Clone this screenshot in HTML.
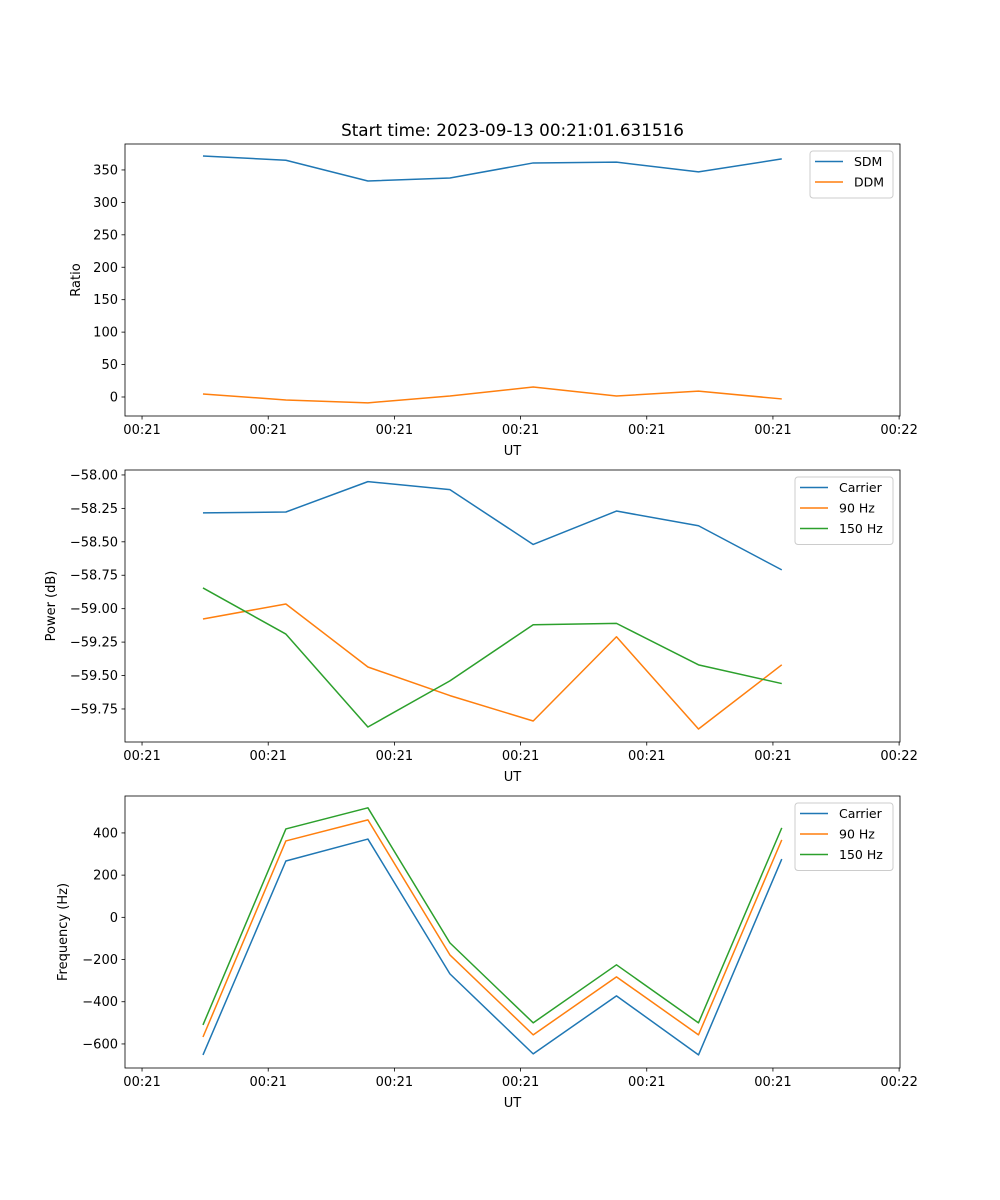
<!DOCTYPE html>
<html><head><meta charset="utf-8">
<style>
html,body{margin:0;padding:0;background:#fff;}
svg{display:block;font-family:"DejaVu Sans","Liberation Sans",sans-serif;}
</style></head>
<body>
<svg id="fig" width="1000" height="1200" xmlns="http://www.w3.org/2000/svg">
<rect width="1000" height="1200" fill="#fff"/>
</svg>
<script>
// Shared time axis (seconds relative to 00:21:00 tick)
const times = [4.83, 11.4, 17.9, 24.4, 31.0, 37.6, 44.1, 50.7];
const xTickValues = [0, 10, 20, 30, 40, 50, 60];
const xTickLabels = ["00:21","00:21","00:21","00:21","00:21","00:21","00:22"];

// Panel 1: Ratio
const sdm = [371.6, 365, 333, 337.6, 360.8, 362, 347, 367];
const ddm = [4.6, -4.6, -9, 1.5, 15.4, 1.5, 9, -3];
const ratioTicks = [0, 50, 100, 150, 200, 250, 300, 350];
const ratioTickLabels = ["0","50","100","150","200","250","300","350"];

// Panel 2: Power
const powCarrier = [-58.284, -58.277, -58.05, -58.11, -58.52, -58.27, -58.38, -58.71];
const pow90 = [-59.077, -58.965, -59.436, -59.65, -59.84, -59.21, -59.90, -59.42];
const pow150 = [-58.845, -59.19, -59.885, -59.54, -59.12, -59.11, -59.42, -59.56];
const powTicks = [-58.0, -58.25, -58.5, -58.75, -59.0, -59.25, -59.5, -59.75];
const powTickLabels = ["\u221258.00","\u221258.25","\u221258.50","\u221258.75","\u221259.00","\u221259.25","\u221259.50","\u221259.75"];

// Panel 3: Frequency
const freqCarrier = [-652, 267, 371, -268, -647, -372, -652, 276];
const freq90 = [-567, 362, 462, -178, -557, -282, -557, 367];
const freq150 = [-510, 419, 519, -121, -500, -225, -500, 424];
const freqTicks = [400, 200, 0, -200, -400, -600];
const freqTickLabels = ["400","200","0","\u2212200","\u2212400","\u2212600"];

const NS = "http://www.w3.org/2000/svg";
const svg = document.getElementById("fig");
const C1 = "#1f77b4", C2 = "#ff7f0e", C3 = "#2ca02c";
const L = 125, R = 900;
const xMin = -1.35, xMax = 60.07;
function xs(t){ return L + (t - xMin) / (xMax - xMin) * (R - L); }

function mk(tag, attrs, parent){
  const e = document.createElementNS(NS, tag);
  for (const k in attrs) e.setAttribute(k, attrs[k]);
  (parent || svg).appendChild(e);
  return e;
}

function panel(name, top, bottom, yMin, yMax, yt, ytl, ylabel, series, legend){
  const g = mk("g", {});
  
  
  const ys = v => bottom - (v - yMin) / (yMax - yMin) * (bottom - top);
  series.forEach(s => {
    const pts = times.map((t, i) => xs(t).toFixed(2) + "," + ys(s.data[i]).toFixed(2)).join(" ");
    const p = mk("polyline", {points: pts, fill: "none", stroke: s.color, "stroke-width": 1.5, "stroke-linejoin": "round"}, g);
    
    
  });
  const fr = mk("rect", {x: L, y: top, width: R - L, height: bottom - top, fill: "none", stroke: "#000", "stroke-width": 0.8}, g);
  
  
  xTickValues.forEach((v, i) => {
    const x = xs(v);
    mk("line", {x1: x, x2: x, y1: bottom, y2: bottom + 3.5, stroke: "#000", "stroke-width": 0.8}, g);
    const t = mk("text", {x: x, y: bottom + 18, "text-anchor": "middle", "font-size": 13}, g);
    t.textContent = xTickLabels[i];
    
    
  });
  const xl = mk("text", {x: (L + R) / 2, y: bottom + 39, "text-anchor": "middle", "font-size": 13}, g);
  xl.textContent = "UT";
  
  
  yt.forEach((v, i) => {
    const y = ys(v);
    mk("line", {x1: L, x2: L - 3.5, y1: y, y2: y, stroke: "#000", "stroke-width": 0.8}, g);
    const t = mk("text", {x: L - 7, y: y + 4.5, "text-anchor": "end", "font-size": 13}, g);
    t.textContent = ytl[i];
    
    
  });
  const yl = mk("text", {x: 0, y: 0, "text-anchor": "middle", "font-size": 13,
    transform: "translate(" + ylabel.x + "," + ((top + bottom) / 2) + ") rotate(-90)"}, g);
  yl.textContent = ylabel.text;
  
  
  const lg = mk("g", {}, g);
  
  
  mk("rect", {x: legend.x, y: top + 7, width: legend.w, height: 6 + series.length * 20.5, rx: 3,
    fill: "#fff", "fill-opacity": 0.8, stroke: "#ccc", "stroke-width": 1}, lg);
  series.forEach((s, i) => {
    const y = top + 17.5 + i * 20.5;
    mk("line", {x1: legend.x + 5, x2: legend.x + 33, y1: y, y2: y, stroke: s.color, "stroke-width": 1.5}, lg);
    const t = mk("text", {x: legend.x + 44, y: y + 4.5, "font-size": 12.5}, lg);
    t.textContent = s.label;
    
    
  });
  return g;
}

const title = mk("text", {x: (L + R) / 2, y: 136, "text-anchor": "middle", "font-size": 16.8});
title.textContent = "Start time: 2023-09-13 00:21:01.631516";



panel("ratio", 144, 416, -29.3, 390, ratioTicks, ratioTickLabels, {x: 80, text: "Ratio"},
  [{key: "sdm", label: "SDM", color: C1, data: sdm}, {key: "ddm", label: "DDM", color: C2, data: ddm}],
  {x: 810, w: 83});
panel("power", 470, 742, -59.997, -57.963, powTicks, powTickLabels, {x: 55, text: "Power (dB)"},
  [{key: "carrier", label: "Carrier", color: C1, data: powCarrier},
   {key: "90hz", label: "90 Hz", color: C2, data: pow90},
   {key: "150hz", label: "150 Hz", color: C3, data: pow150}],
  {x: 795, w: 98});
panel("frequency", 796, 1068, -714, 575, freqTicks, freqTickLabels, {x: 67, text: "Frequency (Hz)"},
  [{key: "carrier", label: "Carrier", color: C1, data: freqCarrier},
   {key: "90hz", label: "90 Hz", color: C2, data: freq90},
   {key: "150hz", label: "150 Hz", color: C3, data: freq150}],
  {x: 795, w: 98});
</script>
</body></html>
